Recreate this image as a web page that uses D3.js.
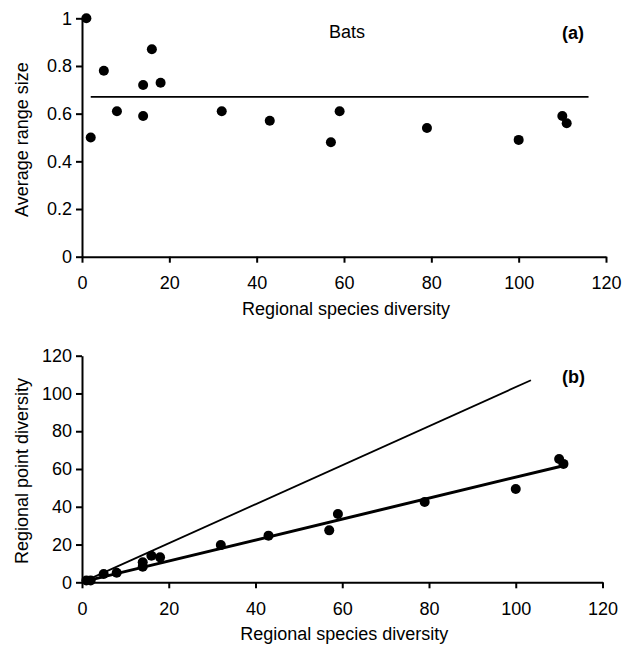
<!DOCTYPE html>
<html>
<head>
<meta charset="utf-8">
<script src="https://cdn.jsdelivr.net/npm/d3@7"></script>
<style>
  html, body { margin: 0; padding: 0; background: #fff; }
  svg { display: block; font-family: "Liberation Sans", Arial, Helvetica, sans-serif; }
  .axis path, .axis line { stroke: #000; stroke-width: 2; }
  .axis text { font-size: 18px; fill: #000; font-family: "Liberation Sans", Arial, sans-serif; }
</style>
</head>
<body>
<script>
// ---- data ----
const speciesDiversity = [1, 2, 5, 8, 14, 14, 16, 18, 32, 43, 57, 59, 79, 100, 110, 111];
const averageRangeSize = [1.0, 0.50, 0.78, 0.61, 0.72, 0.59, 0.87, 0.73, 0.61, 0.57, 0.48, 0.61, 0.54, 0.49, 0.59, 0.56];
const pointDiversity   = [1, 1, 4.4, 5.1, 10.6, 8.3, 14.1, 13.2, 19.7, 24.7, 27.5, 36.2, 42.5, 49.4, 65.3, 62.7];
const meanRangeLine = [[2, 0.67], [116, 0.67]];
const upperLine = [[1, 1], [103.5, 107]];
const fitLine = [[1.5, 1.0], [110.5, 61.5]];
const xTicks = [0, 20, 40, 60, 80, 100, 120];
const yTicksA = [0, 0.2, 0.4, 0.6, 0.8, 1];
const yTicksB = [0, 20, 40, 60, 80, 100, 120];
const xLabel = "Regional species diversity";
const yLabelA = "Average range size";
const yLabelB = "Regional point diversity";

const W = 632, H = 649;
const svg = d3.select("body").append("svg").attr("width", W).attr("height", H);

function panel(cfg) {
  const x = d3.scaleLinear().domain([0, 120]).range(cfg.xr);
  const y = d3.scaleLinear().domain(cfg.yd).range(cfg.yr);
  const g = svg.append("g");

  const xa = g.append("g").attr("class", "axis")
    .attr("transform", `translate(0,${cfg.yr[0]})`)
    .call(d3.axisBottom(x).tickValues(xTicks).tickSize(6).tickSizeOuter(0).tickPadding(14).tickFormat(d3.format("d")));
  const ya = g.append("g").attr("class", "axis")
    .attr("transform", `translate(${cfg.xr[0]},0)`)
    .call(d3.axisLeft(y).tickValues(cfg.yTicks).tickSize(6).tickSizeOuter(0).tickPadding(4).tickFormat(cfg.fmt));

  // axis titles
  g.append("text").attr("x", (cfg.xr[0] + cfg.xr[1]) / 2 + 2).attr("y", cfg.yr[0] + 58)
    .attr("text-anchor", "middle").attr("font-size", 18).text(xLabel);
  g.append("text")
    .attr("transform", `translate(28,${(cfg.yr[0] + cfg.yr[1]) / 2 + 2}) rotate(-90)`)
    .attr("text-anchor", "middle").attr("font-size", 18).text(cfg.ylab);

  const line = d3.line().x(d => x(d[0])).y(d => y(d[1]));
  cfg.lines.forEach(l => {
    g.append("path").attr("d", line(l.data)).attr("fill", "none")
      .attr("stroke", "#000").attr("stroke-width", l.w);
  });

  g.selectAll("circle.pt").data(cfg.pts).join("circle").attr("class", "pt")
    .attr("cx", d => x(d[0])).attr("cy", d => y(d[1])).attr("r", 5).attr("fill", "#000");

  return { x, y, g };
}

const pa = panel({
  xr: [82, 606], yd: [0, 1], yr: [256.7, 18.3], yTicks: yTicksA,
  fmt: d => d === 0 ? "0" : d === 1 ? "1" : d3.format(".1f")(d),
  ylab: yLabelA,
  lines: [{ data: meanRangeLine, w: 1.8 }],
  pts: speciesDiversity.map((s, i) => [s, averageRangeSize[i]])
});
pa.g.append("text").attr("x", 329).attr("y", 38).attr("font-size", 18).text("Bats");
pa.g.append("text").attr("x", 584).attr("y", 39).attr("text-anchor", "end")
  .attr("font-size", 18).attr("font-weight", "bold").text("(a)");

const pb = panel({
  xr: [82, 602.5], yd: [0, 120], yr: [582.3, 355.7], yTicks: yTicksB,
  fmt: d3.format("d"),
  ylab: yLabelB,
  lines: [{ data: upperLine, w: 1.8 }, { data: fitLine, w: 3 }],
  pts: speciesDiversity.map((s, i) => [s, pointDiversity[i]])
});
pb.g.append("text").attr("x", 585).attr("y", 383).attr("text-anchor", "end")
  .attr("font-size", 18).attr("font-weight", "bold").text("(b)");
</script>
</body>
</html>
